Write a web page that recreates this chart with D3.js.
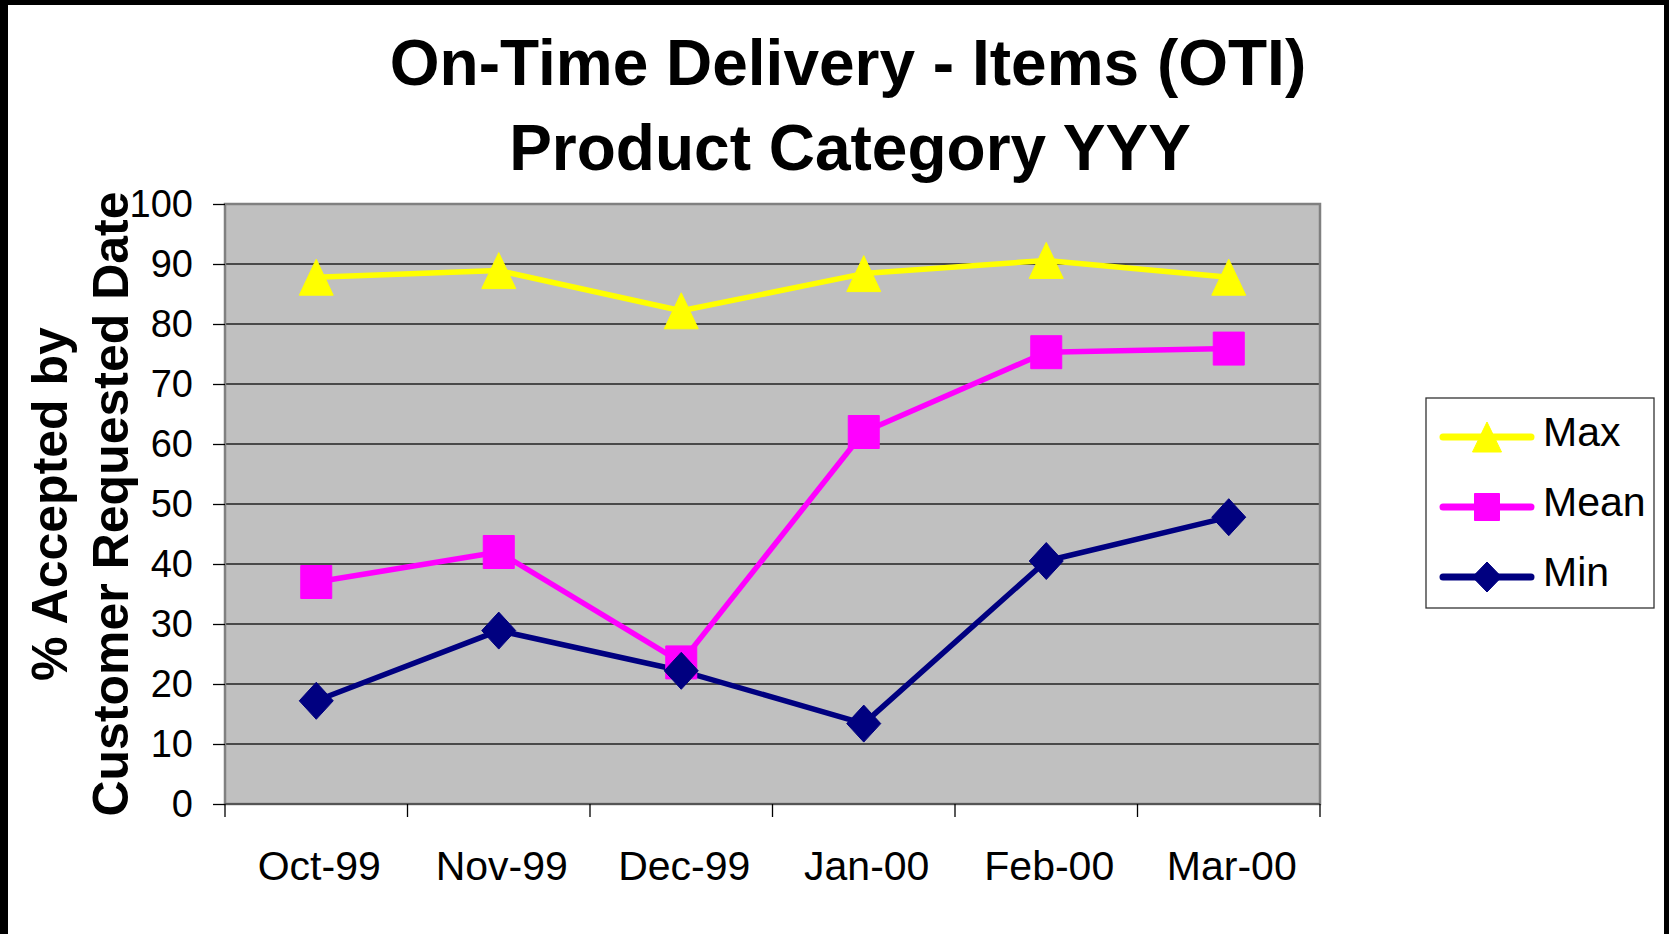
<!DOCTYPE html>
<html lang="en">
<head>
<meta charset="UTF-8" />
<title>On-Time Delivery - Items (OTI)</title>
<script src="https://cdn.jsdelivr.net/npm/d3@7"></script>
<style>
  body { margin: 0; background: #fff; }
  svg { display: block; font-family: "Liberation Sans", Arial, sans-serif; }
</style>
</head>
<body>
<div id="chart"></div>
<script>
// data
const months = ['Oct-99', 'Nov-99', 'Dec-99', 'Jan-00', 'Feb-00', 'Mar-00'];
const maxVals  = [87.8, 88.9, 82.2, 88.4, 90.6, 87.8];
const meanVals = [37.0, 42.0, 23.6, 62.0, 75.3, 75.9];
const minVals  = [17.2, 28.9, 22.2, 13.4, 40.5, 47.8];
const yTicks = [0, 10, 20, 30, 40, 50, 60, 70, 80, 90, 100];

const series = [
  { name: 'Max',  values: maxVals,  color: '#ffff00', shape: 'triangle' },
  { name: 'Mean', values: meanVals, color: '#ff00ff', shape: 'square' },
  { name: 'Min',  values: minVals,  color: '#000080', shape: 'diamond' }
];

const width = 1669, height = 934;
const plot = { left: 225, right: 1320, top: 204, bottom: 804 };

const svg = d3.select('#chart').append('svg')
  .attr('width', width).attr('height', height);

// marker outline, w x h box centred on 0,0
function shapePath(shape, w, h) {
  const a = w / 2, b = h / 2;
  if (shape === 'triangle') return `M0,${-b}L${a},${b}L${-a},${b}Z`;
  if (shape === 'square') return `M${-a},${-b}H${a}V${b}H${-a}Z`;
  return `M0,${-b}L${a},0L0,${b}L${-a},0Z`;
}
const plotSize = { triangle: [34, 36], square: [31, 33], diamond: [34, 37] };
const legendSize = { triangle: [29, 30], square: [25, 27], diamond: [29, 30] };

// black frame (left, top, right)
svg.append('rect').attr('x', 0).attr('y', 0).attr('width', 8).attr('height', height).attr('fill', '#000');
svg.append('rect').attr('x', 0).attr('y', 0).attr('width', width).attr('height', 5).attr('fill', '#000');
svg.append('rect').attr('x', width - 5).attr('y', 0).attr('width', 5).attr('height', height).attr('fill', '#000');

const x = d3.scaleBand().domain(months).range([plot.left, plot.right]).padding(0);
const y = d3.scaleLinear().domain([0, 100]).range([plot.bottom, plot.top]);
const cx = m => x(m) + x.bandwidth() / 2;

// plot background
svg.append('rect')
  .attr('x', plot.left).attr('y', plot.top)
  .attr('width', plot.right - plot.left).attr('height', plot.bottom - plot.top)
  .attr('fill', '#c0c0c0');

// gridlines
svg.append('g').selectAll('line')
  .data(yTicks.filter(t => t > 0 && t < 100))
  .join('line')
    .attr('x1', plot.left).attr('x2', plot.right)
    .attr('y1', d => y(d)).attr('y2', d => y(d))
    .attr('stroke', '#222').attr('stroke-width', 1.3);

// plot border
svg.append('rect')
  .attr('x', plot.left).attr('y', plot.top)
  .attr('width', plot.right - plot.left).attr('height', plot.bottom - plot.top)
  .attr('fill', 'none').attr('stroke', '#808080').attr('stroke-width', 2.5);

// y axis
const yAxis = svg.append('g')
  .attr('transform', `translate(${plot.left},0)`)
  .call(d3.axisLeft(y).tickValues(yTicks).tickSize(12).tickPadding(20));
yAxis.select('.domain').remove();
yAxis.selectAll('.tick line').attr('stroke', '#000').attr('stroke-width', 1.3);
yAxis.selectAll('.tick text')
  .attr('font-size', 38).attr('fill', '#000')
  .attr('font-family', '"Liberation Sans", Arial, sans-serif');

// x axis: ticks on band boundaries, labels on band centres
const bounds = months.map(m => x(m)).concat([plot.right]);
svg.append('line')
  .attr('x1', plot.left).attr('x2', plot.right)
  .attr('y1', plot.bottom).attr('y2', plot.bottom)
  .attr('stroke', '#555').attr('stroke-width', 2);
svg.append('g').selectAll('line')
  .data(bounds)
  .join('line')
    .attr('x1', d => d).attr('x2', d => d)
    .attr('y1', plot.bottom).attr('y2', plot.bottom + 13)
    .attr('stroke', '#000').attr('stroke-width', 1.3);
svg.append('g').selectAll('text')
  .data(months)
  .join('text')
    .attr('x', d => cx(d) + 3)
    .attr('y', 880)
    .attr('text-anchor', 'middle')
    .attr('font-size', 41)
    .text(d => d);

// series lines and markers
const line = d3.line()
  .x((d, i) => cx(months[i]))
  .y(d => y(d));

series.forEach(s => {
  svg.append('path')
    .datum(s.values)
    .attr('d', line)
    .attr('fill', 'none')
    .attr('stroke', s.color)
    .attr('stroke-width', 5.5)
    .attr('stroke-linejoin', 'round');
});
series.forEach(s => {
  const [w, h] = plotSize[s.shape];
  svg.append('g').selectAll('path')
    .data(s.values)
    .join('path')
      .attr('transform', (d, i) => `translate(${cx(months[i])},${y(d)})`)
      .attr('d', shapePath(s.shape, w, h))
      .attr('fill', s.color)
      .attr('stroke', s.color)
      .attr('stroke-width', 1)
      .attr('stroke-linejoin', 'round');
});

// title
const title = svg.append('g').attr('font-weight', 'bold').attr('font-size', 64).attr('text-anchor', 'middle');
title.append('text').attr('x', 848).attr('y', 85).text('On-Time Delivery - Items (OTI)');
title.append('text').attr('x', 850).attr('y', 170).text('Product Category YYY');

// y axis title
const yTitle = svg.append('g')
  .attr('transform', `translate(0,${(plot.top + plot.bottom) / 2}) rotate(-90)`)
  .attr('font-weight', 'bold').attr('font-size', 50).attr('text-anchor', 'middle');
yTitle.append('text').attr('x', 0).attr('y', 67).text('% Accepted by');
yTitle.append('text').attr('x', 0).attr('y', 128).text('Customer Requested Date');

// legend
const legend = svg.append('g');
legend.append('rect')
  .attr('x', 1426).attr('y', 398).attr('width', 228).attr('height', 210)
  .attr('fill', '#fff').attr('stroke', '#333').attr('stroke-width', 1.3);
series.forEach((s, i) => {
  const ly = 437 + i * 70;
  const [w, h] = legendSize[s.shape];
  legend.append('line')
    .attr('x1', 1443).attr('x2', 1531).attr('y1', ly).attr('y2', ly)
    .attr('stroke', s.color).attr('stroke-width', 7).attr('stroke-linecap', 'round');
  legend.append('path')
    .attr('transform', `translate(1487,${ly})`)
    .attr('d', shapePath(s.shape, w, h))
    .attr('fill', s.color).attr('stroke', s.color).attr('stroke-linejoin', 'round');
  legend.append('text')
    .attr('x', 1543).attr('y', ly + 9)
    .attr('font-size', 41)
    .text(s.name);
});
</script>
</body>
</html>
